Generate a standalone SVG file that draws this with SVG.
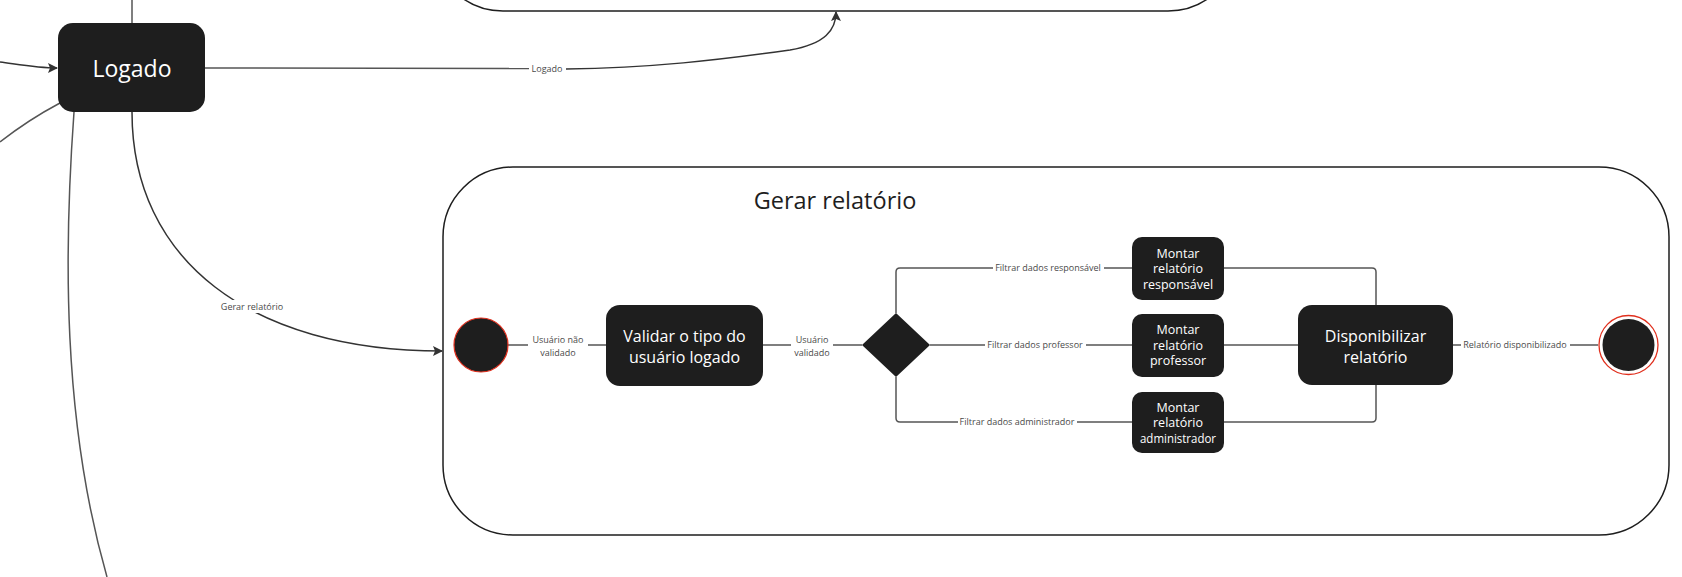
<svg xmlns="http://www.w3.org/2000/svg" width="1682" height="577" viewBox="0 0 1682 577">
<style>
.bg{fill:#ffffff}
.frame{fill:#ffffff;stroke:#1e1e1e;stroke-width:1.5}
.box{fill:#1e1e1e;stroke:none}
.wt{fill:#ffffff;font-family:"Open Sans","Noto Sans","Liberation Sans",sans-serif;text-anchor:middle}
.sm{font-size:12.5px}
.lbl{fill:#4a4a4a;font-family:"Open Sans","Noto Sans","Liberation Sans",sans-serif;font-size:9px;text-anchor:middle}
.ttl{fill:#1e1e1e;font-family:"Open Sans","Noto Sans","Liberation Sans",sans-serif;font-size:23.5px;text-anchor:middle}
.ln{fill:none;stroke:#555555;stroke-width:1.5}
.lnd{fill:none;stroke:#333333;stroke-width:1.5}
</style>
<defs>
<marker id="arr" viewBox="0 0 10 10" refX="9" refY="5" markerWidth="10" markerHeight="10" markerUnits="userSpaceOnUse" orient="auto">
<path d="M0,0 L10,5 L0,10 L2,5 Z" fill="#333333"/>
</marker>
</defs>
<rect class="bg" x="0" y="0" width="1682" height="577"/>

<g id="container-top">
<rect class="frame" x="433" y="-300" width="805" height="311" rx="70" ry="70"/>
</g>
<g id="container-gerar-relatorio">
<rect class="frame" x="443" y="167" width="1226" height="368" rx="70" ry="70"/>
<text class="ttl" x="835" y="209">Gerar relatório</text>
</g>

<g id="connectors">
<path class="ln" d="M132,0 V23"/>
<path class="lnd" d="M0,62 C22,65 38,68 57,68" marker-end="url(#arr)"/>
<path class="ln" d="M60,103 Q28,120 0,142"/>
<path class="ln" d="M74,112 C64,250 62,420 107,577"/>
<path class="lnd" d="M132,112 C132,260 250,351 442,351" marker-end="url(#arr)"/>
<rect x="219" y="300" width="66" height="13" fill="#ffffff"/>
<path class="ln" d="M205,68 L529,68.5"/>
<path class="lnd" d="M566,69 C650,68 720,60 790,50 C825,44 836,30 836,12" marker-end="url(#arr)"/>

<path class="ln" d="M508,345 H528 M588,345 H606"/>
<path class="ln" d="M763,345 H791 M833,345 H862"/>
<path class="ln" d="M896,313 V272 Q896,268 900,268 H993 M1104,268 H1132"/>
<path class="ln" d="M930,345 H985 M1086,345 H1132"/>
<path class="ln" d="M896,377 V418 Q896,422 900,422 H958 M1077,422 H1132"/>
<path class="ln" d="M1224,268 H1372 Q1376,268 1376,272 V305"/>
<path class="ln" d="M1224,345 H1298"/>
<path class="ln" d="M1224,422 H1372 Q1376,422 1376,418 V385"/>
<path class="ln" d="M1453,345 H1461 M1570,345 H1598"/>

<text class="lbl" x="547" y="72">Logado</text>
<text class="lbl" x="252" y="310">Gerar relatório</text>
<text class="lbl" x="558" y="343">Usuário não</text>
<text class="lbl" x="558" y="356">validado</text>
<text class="lbl" x="812" y="343">Usuário</text>
<text class="lbl" x="812" y="356">validado</text>
<text class="lbl" x="1048" y="271">Filtrar dados responsável</text>
<text class="lbl" x="1035" y="348">Filtrar dados professor</text>
<text class="lbl" x="1017" y="425">Filtrar dados administrador</text>
<text class="lbl" x="1515" y="348">Relatório disponibilizado</text>
</g>

<g id="node-logado">
<rect class="box" x="58" y="23" width="147" height="89" rx="15" ry="15"/>
<text class="wt" x="132" y="77" font-size="23">Logado</text>
</g>

<g id="node-inicio">
<circle cx="481" cy="345" r="27" fill="#1e1e1e" stroke="#e0301e" stroke-width="1.2"/>
</g>

<g id="node-validar">
<rect class="box" x="606" y="305" width="157" height="81" rx="14" ry="14"/>
<text class="wt" x="684.5" y="341.5" font-size="16">Validar o tipo do</text>
<text class="wt" x="684.5" y="362.5" font-size="16">usuário logado</text>
</g>

<g id="node-decisao">
<path d="M896,313 L930,345 L896,377 L862,345 Z" fill="#1e1e1e"/>
</g>

<g id="node-montar-responsavel">
<rect class="box" x="1132" y="237" width="92" height="63" rx="10" ry="10"/>
<text class="wt sm" x="1178" y="257.5">Montar</text>
<text class="wt sm" x="1178" y="273">relatório</text>
<text class="wt sm" x="1178" y="288.5">responsável</text>
</g>

<g id="node-montar-professor">
<rect class="box" x="1132" y="314" width="92" height="63" rx="10" ry="10"/>
<text class="wt sm" x="1178" y="334">Montar</text>
<text class="wt sm" x="1178" y="349.5">relatório</text>
<text class="wt sm" x="1178" y="365">professor</text>
</g>

<g id="node-montar-administrador">
<rect class="box" x="1132" y="392" width="92" height="61" rx="10" ry="10"/>
<text class="wt sm" x="1178" y="411.5">Montar</text>
<text class="wt sm" x="1178" y="427">relatório</text>
<text class="wt sm" x="1178" y="442.5" textLength="76" lengthAdjust="spacingAndGlyphs">administrador</text>
</g>

<g id="node-disponibilizar">
<rect class="box" x="1298" y="305" width="155" height="80" rx="14" ry="14"/>
<text class="wt" x="1375.5" y="341.5" font-size="16">Disponibilizar</text>
<text class="wt" x="1375.5" y="362.5" font-size="16">relatório</text>
</g>

<g id="node-fim">
<circle cx="1628.5" cy="345" r="29.5" fill="#ffffff" stroke="#e0301e" stroke-width="1.3"/>
<circle cx="1628.5" cy="345" r="26" fill="#1e1e1e"/>
</g>
</svg>
